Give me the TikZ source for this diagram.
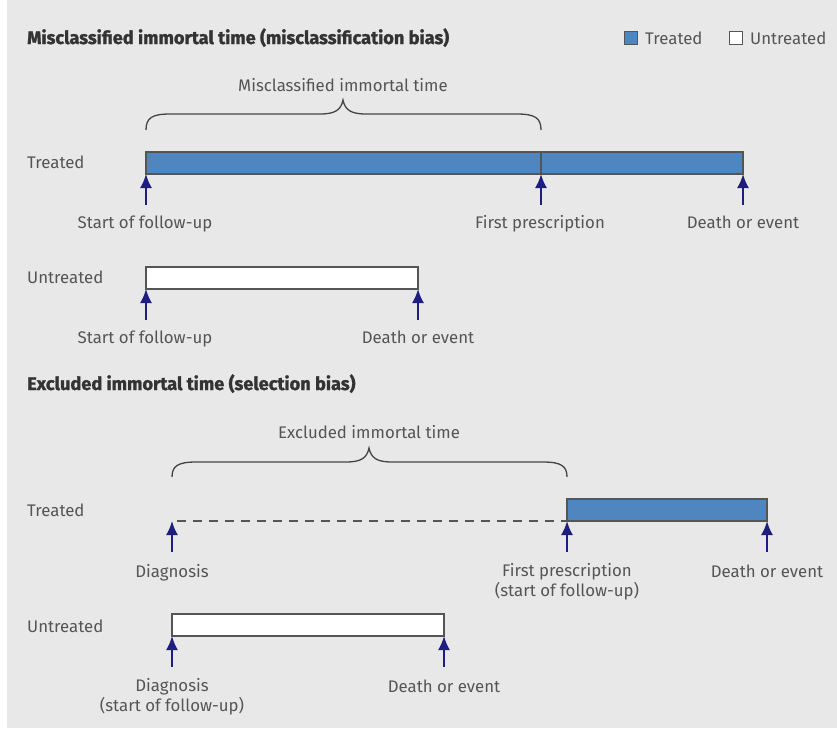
\documentclass[tikz,border=0pt]{standalone}
\usepackage{fontspec}
\setmainfont{Fira Sans}
\newfontfamily\heavyfont{Fira Sans}[BoldFeatures={FakeBold=1.4}]
\usetikzlibrary{arrows.meta}
\definecolor{bg}{HTML}{E8E8E8}
\definecolor{barblue}{HTML}{4F86BF}
\definecolor{navy}{HTML}{1E1E7E}
\definecolor{txt}{HTML}{555555}
\definecolor{edge}{HTML}{555555}
\tikzset{
  lbl/.style={text=txt, font=\fontsize{16.8}{20}\selectfont, inner sep=0pt, align=center},
  rowlbl/.style={lbl, anchor=base west},
  ttl/.style={text=txt!60!black, font=\fontsize{18.2}{20}\selectfont\heavyfont\bfseries, inner sep=0pt, anchor=base west},
  bartreat/.style={fill=barblue, draw=edge, line width=1.5pt},
  baruntreat/.style={fill=white, draw=edge, line width=1.5pt},
  evarrow/.style={draw=navy, line width=2pt, -{Latex[length=14pt,width=12pt]}},
  bracel/.style={draw=txt!80!black, line width=1.3pt},
  dashl/.style={draw=txt, line width=1.3pt, dash pattern=on 9pt off 7pt},
}
\begin{document}
\begin{tikzpicture}[x=1pt,y=-1pt]
\useasboundingbox (0,0) rectangle (837,728);
\fill[white] (0,0) rectangle (837,728);
\fill[bg] (7,0) rectangle (837,728);

% ---------- Section 1 ----------
\node[ttl] (t1) at (27,44) {Misclassified immortal time (misclassification bias)};
% legend
\node[bartreat, line width=1pt, minimum size=13pt, inner sep=0pt] (legT) at (631,38) {};
\node[rowlbl] (legTl) at (645,44) {Treated};
\node[baruntreat, line width=1pt, minimum size=13pt, inner sep=0pt] (legU) at (736,38) {};
\node[rowlbl] (legUl) at (750,44) {Untreated};

% brace 1
\node[lbl, anchor=base] (b1l) at (343,91) {Misclassified immortal time};
\draw[bracel] (146,130) .. controls (146,118) and (152,114) .. (170,114) -- (320,114)
  .. controls (335,114) and (341,110) .. (343,100)
  .. controls (345,110) and (351,114) .. (366,114) -- (517,114)
  .. controls (535,114) and (541,118) .. (541,130);

\node[rowlbl] (tr1) at (27,168) {Treated};
\draw[bartreat] (146,152) rectangle (743,174);
\draw[edge, line width=1.5pt] (541,152) -- (541,174);
\coordinate (a1s) at (146,205); \coordinate (a1e) at (146,174);
\coordinate (a2s) at (541,205); \coordinate (a2e) at (541,174);
\coordinate (a3s) at (743,205); \coordinate (a3e) at (743,174);
\draw[evarrow] (a1s) -- (a1e);
\draw[evarrow] (a2s) -- (a2e);
\draw[evarrow] (a3s) -- (a3e);
\node[lbl, anchor=base] (l1) at (145,228) {Start of follow-up};
\node[lbl, anchor=base] (l2) at (540,228) {First prescription};
\node[lbl, anchor=base] (l3) at (743,228) {Death or event};

\node[rowlbl] (un1) at (27,283) {Untreated};
\draw[baruntreat] (146,267) rectangle (418,289);
\coordinate (a4s) at (146,320); \coordinate (a4e) at (146,289);
\coordinate (a5s) at (418,320); \coordinate (a5e) at (418,289);
\draw[evarrow] (a4s) -- (a4e);
\draw[evarrow] (a5s) -- (a5e);
\node[lbl, anchor=base] (l4) at (145,343) {Start of follow-up};
\node[lbl, anchor=base] (l5) at (418,343) {Death or event};

% ---------- Section 2 ----------
\node[ttl] (t2) at (27,390) {Excluded immortal time (selection bias)};

\node[lbl, anchor=base] (b2l) at (369,438) {Excluded immortal time};
\draw[bracel] (172,477) .. controls (172,466) and (178,462) .. (196,462) -- (346,462)
  .. controls (361,462) and (367,458) .. (369,448)
  .. controls (371,458) and (377,462) .. (392,462) -- (543,462)
  .. controls (561,462) and (567,466) .. (567,477);

\node[rowlbl] (tr2) at (27,516) {Treated};
\draw[dashl] (177,521) -- (567,521);
\draw[bartreat] (567,499) rectangle (767,521);
\coordinate (b1s) at (172,552); \coordinate (b1e) at (172,521);
\coordinate (b2s) at (567,552); \coordinate (b2e) at (567,521);
\coordinate (b3s) at (767,552); \coordinate (b3e) at (767,521);
\draw[evarrow] (b1s) -- (b1e);
\draw[evarrow] (b2s) -- (b2e);
\draw[evarrow] (b3s) -- (b3e);
\node[lbl, anchor=base] (m1) at (172,577) {Diagnosis};
\node[lbl, anchor=north] (m2) at (567,563) {First prescription\\(start of follow-up)};
\node[lbl, anchor=base] (m3) at (767,577) {Death or event};

\node[rowlbl] (un2) at (27,632) {Untreated};
\draw[baruntreat] (172,614) rectangle (444,636);
\coordinate (b4s) at (172,667); \coordinate (b4e) at (172,636);
\coordinate (b5s) at (444,667); \coordinate (b5e) at (444,636);
\draw[evarrow] (b4s) -- (b4e);
\draw[evarrow] (b5s) -- (b5e);
\node[lbl, anchor=north] (m4) at (172,678) {Diagnosis\\(start of follow-up)};
\node[lbl, anchor=base] (m5) at (444,692) {Death or event};
\end{tikzpicture}
\end{document}
